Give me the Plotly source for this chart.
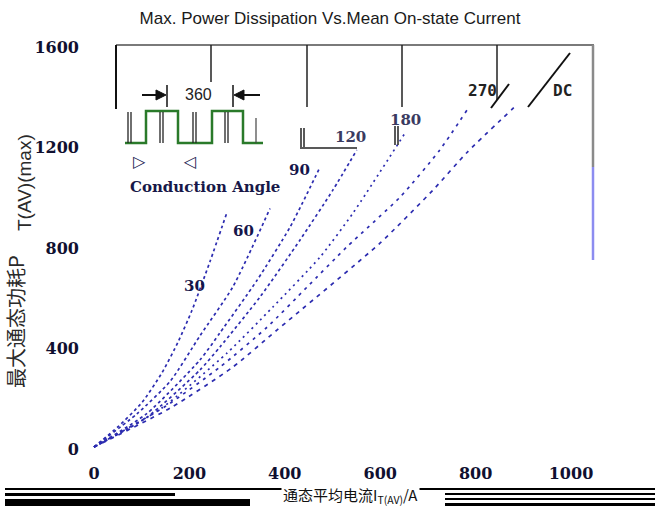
import plotly.graph_objects as go

# ---------------- data ----------------
angles = ["30", "60", "90", "120", "180", "270", "DC"]

I_30 = [0, 50, 101, 143, 176, 205, 243, 279]
P_30 = [8, 88, 186, 305, 425, 550, 745, 943]

I_60 = [0, 90, 160, 222, 291, 369]
P_60 = [8, 140, 270, 450, 645, 957]

I_90 = [0, 110, 222, 264, 342, 411, 474]
P_90 = [8, 140, 354, 462, 672, 883, 1122]

I_120 = [0, 110, 222, 264, 348, 432, 501, 551]
P_120 = [8, 125, 314, 406, 605, 832, 1031, 1190]

I_180 = [0, 140, 279, 375, 474, 543, 652]
P_180 = [8, 160, 382, 565, 764, 939, 1257]

I_270 = [0, 150, 264, 363, 447, 530, 642, 725, 782]
P_270 = [8, 170, 326, 485, 645, 804, 1003, 1190, 1349]

I_DC = [0, 160, 291, 384, 600, 711, 782, 880]
P_DC = [8, 163, 326, 474, 820, 1031, 1180, 1358]

x_ticks = [0, 200, 400, 600, 800, 1000]
y_ticks = [0, 400, 800, 1200, 1600]

series_I = [I_30, I_60, I_90, I_120, I_180, I_270, I_DC]
series_P = [P_30, P_60, P_90, P_120, P_180, P_270, P_DC]
dashes = ["dot", "dot", "dot", "dot", "2px,4px", "3px,5px", "4px,5px"]

# ---------------- geometry ----------------
W, H = 660, 508
L, R, T, B = 80, 620, 40, 462
X0PX, XS = 94.0, 0.477     # pixel of x=0, px per unit
Y0PX, YS = 449.0, 0.2513   # pixel of y=0, px per unit
xr = [(L - X0PX) / XS, (R - X0PX) / XS]
yr = [(Y0PX - B) / YS, (Y0PX - T) / YS]


def px(x):
    return (x - L) / (R - L)


def py(y):
    return (B - y) / (B - T)


fig = go.Figure()
for nm, xs, ys, d in zip(angles, series_I, series_P, dashes):
    fig.add_trace(go.Scatter(x=xs, y=ys, mode="lines", name=nm,
                             line=dict(color="#2c2cb0", width=1.7, dash=d,
                                       shape="spline", smoothing=0.6),
                             hoverinfo="skip"))

shapes = []


def seg(x0, y0, x1, y1, color="#222", w=1.5):
    shapes.append(dict(type="line", xref="paper", yref="paper",
                       x0=px(x0), y0=py(y0), x1=px(x1), y1=py(y1),
                       line=dict(color=color, width=w)))


def rect(x0, y0, x1, y1, color="black"):
    shapes.append(dict(type="rect", xref="paper", yref="paper",
                       x0=px(x0), y0=py(y0), x1=px(x1), y1=py(y1),
                       line=dict(width=0), fillcolor=color, layer="below"))


def path(pts, color, w=2, fill=None):
    d = "M " + " L ".join(f"{px(a):.5f},{py(b):.5f}" for a, b in pts)
    if fill:
        d += " Z"
    shapes.append(dict(type="path", xref="paper", yref="paper", path=d,
                       line=dict(color=color, width=w),
                       fillcolor=fill if fill else "rgba(0,0,0,0)"))


# frame pieces
seg(116, 45, 594, 45, "#7a7a7a", 2)
seg(116, 45, 116, 109, "#111", 2)
seg(211, 45, 211, 82, "#222", 1.5)
seg(307, 45, 307, 107, "#222", 1.5)
seg(402, 45, 402, 107, "#222", 1.5)
seg(497, 45, 497, 100, "#222", 1.5)
seg(593, 45, 593, 167, "#8a8a8a", 2.5)
seg(593, 167, 593, 260, "#8c8cf0", 2.5)

# 360 diagram
seg(142, 95, 158, 95, "#111", 2)
path([(166, 95), (156, 90), (156, 100)], "#111", 1, fill="#111")
seg(167, 85, 167, 107, "#111", 1.5)
seg(233, 85, 233, 107, "#111", 1.5)
path([(234, 95), (244, 90), (244, 100)], "#111", 1, fill="#111")
seg(244, 95, 260, 95, "#111", 2)
path([(125, 143), (146, 143), (146, 111), (178, 111), (178, 143), (212, 143),
      (212, 111), (243, 111), (243, 143), (263, 143)], "#2a7a2a", 2.5)
for bx in [128, 131, 160, 163, 193, 196, 225, 228]:
    seg(bx, 112, bx, 143, "#222", 1.3)
seg(256, 118, 256, 143, "#444", 1.2)

# stray marks near labels
seg(301, 128, 301, 147, "#222", 1.5)
seg(304, 128, 304, 147, "#222", 1.5)
seg(300, 148, 357, 148, "#222", 1.5)
seg(395, 126, 395, 145, "#222", 1.5)
seg(398, 126, 398, 145, "#222", 1.5)

# slashes
seg(491, 108, 509, 84, "#111", 2)
seg(528, 107, 570, 53, "#111", 2)

# bottom black bars
rect(5, 488, 655, 490)
rect(5, 493, 175, 496)
rect(5, 499, 250, 506)
rect(445, 493, 655, 495)
rect(445, 498, 655, 500)
rect(445, 503, 655, 506)

annotations = []


def text(x, y, s, size=15, family="DejaVu Serif", color="#15154a",
         bold=True, angle=0, bg=None):
    a = dict(xref="paper", yref="paper", x=px(x), y=py(y),
             text=f"<b>{s}</b>" if bold else s,
             showarrow=False, xanchor="center",
             yanchor="middle", textangle=angle,
             font=dict(size=size, family=family, color=color))
    if bg:
        a["bgcolor"] = bg
    annotations.append(a)


text(194, 286, "30")
text(243, 231, "60")
text(299, 170, "90")
text(350, 137, "120", color="#3a3a60")
text(405, 120, "180", color="#3a3a60")
text(482, 91, "270", size=16, family="DejaVu Sans Mono", color="#222")
text(562, 91, "DC", size=16, family="DejaVu Sans Mono", color="#222")
text(198, 95, "360", size=16, family="Liberation Sans", color="#222", bold=False)
text(139, 161, "▷", size=16, family="DejaVu Sans", color="#202050", bold=False)
text(190, 161, "◁", size=16, family="DejaVu Sans", color="#202050", bold=False)
text(205, 187, "Conduction Angle", size=15, color="#181848")
text(15, 322, "最大通态功耗P", size=20, family="Noto Sans CJK SC",
     color="#2a2a2a", bold=False, angle=-90)
text(24, 183, "T(AV)(max)", size=19, family="Liberation Sans",
     color="#2a2a2a", bold=False, angle=-90)
text(350, 495, "通态平均电流I<sub>T(AV)</sub>/A", size=15,
     family="Noto Sans CJK SC", color="#111", bold=False, bg="white")

tick_font = dict(family="DejaVu Serif", size=16, color="#101030", weight="bold")

fig.update_layout(
    width=W, height=H,
    margin=dict(l=L, r=W - R, t=T, b=H - B),
    paper_bgcolor="white", plot_bgcolor="white",
    showlegend=False,
    title=dict(text="Max. Power Dissipation Vs.Mean On-state Current",
               x=0.5, xref="container", y=1 - 18 / H, yref="container",
               xanchor="center", yanchor="middle",
               font=dict(family="Liberation Sans", size=17, color="#1a1a1a")),
    xaxis=dict(range=xr, tickvals=x_ticks,
               ticktext=[str(v) for v in x_ticks],
               showgrid=False, zeroline=False, showline=False,
               ticks="", tickfont=tick_font),
    yaxis=dict(range=yr, tickvals=y_ticks,
               ticktext=[str(v) for v in y_ticks],
               showgrid=False, zeroline=False, showline=False,
               ticks="", tickfont=tick_font),
    shapes=shapes, annotations=annotations,
)

fig.write_html("out.html")
